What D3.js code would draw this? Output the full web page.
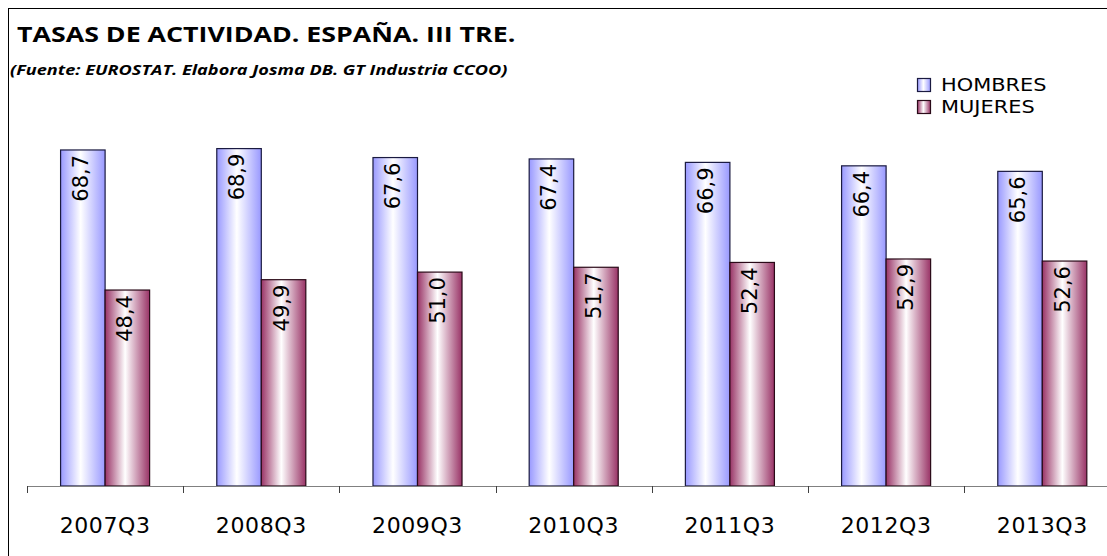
<!DOCTYPE html>
<html><head><meta charset="utf-8">
<script src="https://cdn.jsdelivr.net/npm/d3@7"></script>
<style>
body{margin:0;background:#fff;}
svg{display:block;}
</style></head>
<body>
<svg id="c" width="1107" height="556"></svg>
<script>
const categories = ["2007Q3","2008Q3","2009Q3","2010Q3","2011Q3","2012Q3","2013Q3"];
const hombres = [68.7, 68.9, 67.6, 67.4, 66.9, 66.4, 65.6];
const mujeres = [48.4, 49.9, 51.0, 51.7, 52.4, 52.9, 52.6];
const seriesNames = ["HOMBRES","MUJERES"];
const yDomain = [20, 80];

const svg = d3.select("#c");
const W = 1107, H = 556;
svg.append("rect").attr("x",8.5).attr("y",8.5).attr("width",W+10).attr("height",H+10)
  .attr("fill","#fff").attr("stroke","#000").attr("stroke-width",1);

function stretch(sel, factor){
  const n = sel.node();
  const w = n.getComputedTextLength();
  sel.attr("textLength", w*factor).attr("lengthAdjust","spacingAndGlyphs");
  return sel;
}

const defs = svg.append("defs");
function grad(id, c){
  const g = defs.append("linearGradient").attr("id",id).attr("x1","0").attr("x2","1").attr("y1","0").attr("y2","0");
  g.append("stop").attr("offset","0").attr("stop-color",c);
  g.append("stop").attr("offset","0.45").attr("stop-color","#ffffff");
  g.append("stop").attr("offset","1").attr("stop-color",c);
}
grad("gH","#9999ff");
grad("gM","#993366");
const fills = ["url(#gH)","url(#gM)"];
const strokes = ["#1a1a40","#2a0a18"];

const x0 = 27, step = 156.2;
const x = d3.scaleBand().domain(categories).range([x0, x0 + step*categories.length]).paddingInner(0.43).paddingOuter(0.215);
const xs = d3.scaleBand().domain(seriesNames).range([0, x.bandwidth()]);
const y = d3.scaleLinear().domain(yDomain).range([486, 72]);

const data = categories.map((c,i)=>({cat:c, vals:[hombres[i], mujeres[i]]}));
const g = svg.append("g");
data.forEach(d=>{
  d.vals.forEach((v,j)=>{
    const bx = x(d.cat) + xs(seriesNames[j]);
    g.append("rect").attr("x",bx).attr("y",y(v)).attr("width",xs.bandwidth()).attr("height",y(yDomain[0])-y(v))
      .attr("fill",fills[j]).attr("stroke",strokes[j]).attr("stroke-width",1.2);
    const cx = bx + xs.bandwidth()/2;
    const ty = y(v) + 5;
    g.append("text").attr("transform",`translate(${cx+5},${ty}) rotate(-90)`)
      .attr("text-anchor","end").attr("font-family","DejaVu Sans, Verdana, sans-serif").attr("font-size",21)
      .attr("fill","#000").text(d3.format(".1f")(v).replace(".",","));
  });
});

// x axis
const ax = svg.append("g");
ax.append("line").attr("x1",x0).attr("x2",W).attr("y1",486.5).attr("y2",486.5).attr("stroke","#808080").attr("stroke-width",1.2);
for(let i=0;i<=categories.length;i++){
  const tx = Math.round(x0 + i*step)+0.5;
  ax.append("line").attr("x1",tx).attr("x2",tx).attr("y1",486).attr("y2",493).attr("stroke","#404040");
}
categories.forEach(c=>{
  ax.append("text").attr("x",x(c)+x.bandwidth()/2).attr("y",533).attr("text-anchor","middle")
    .attr("font-family","DejaVu Sans, Verdana, sans-serif").attr("font-size",22).attr("letter-spacing",0.6)
    .attr("fill","#000").text(c);
});

// titles
stretch(svg.append("text").attr("x",17).attr("y",42).attr("font-family","Open Sans, sans-serif").attr("font-weight","bold")
  .attr("font-size",20.5).attr("fill","#000").text("TASAS DE ACTIVIDAD. ESPAÑA. III TRE."), 1.305);
stretch(svg.append("text").attr("x",10).attr("y",75).attr("font-family","Open Sans, sans-serif").attr("font-weight","bold").attr("font-style","italic")
  .attr("font-size",14.5).attr("fill","#000").text("(Fuente: EUROSTAT. Elabora Josma DB. GT Industria CCOO)"), 1.25);

// legend
const lg = svg.append("g");
seriesNames.forEach((s,j)=>{
  const ly = 78 + j*22;
  lg.append("rect").attr("x",917.5).attr("y",ly+0.5).attr("width",13).attr("height",13).attr("fill",fills[j]).attr("stroke",strokes[j]).attr("stroke-width",1.2);
  stretch(lg.append("text").attr("x",941).attr("y",ly+13).attr("font-family","DejaVu Sans, Verdana, sans-serif").attr("font-size",17)
    .attr("fill","#000").text(s), 1.23);
});
</script>
</body></html>
